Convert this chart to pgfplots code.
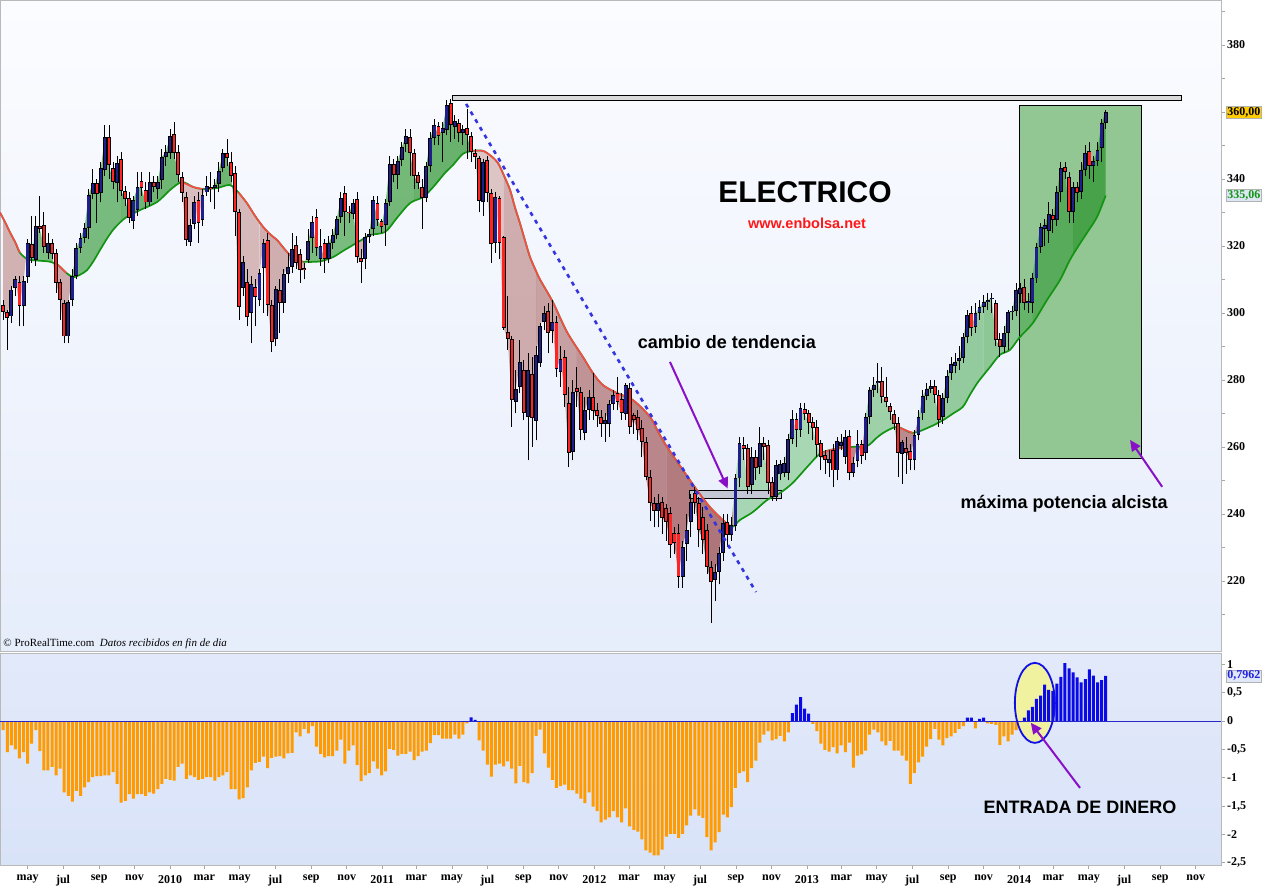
\documentclass[border=0pt]{standalone}
\usepackage{fontspec}
\setmainfont{Liberation Serif}
\newfontfamily\arial{Liberation Sans}
\usepackage{pgfplots}
\pgfplotsset{compat=1.18}
\usepackage{pgfplotstable}
\usepgfplotslibrary{fillbetween}
\usetikzlibrary{arrows.meta}

\definecolor{candleup}{HTML}{1E1E8C}
\definecolor{candledn}{HTML}{FF2424}
\definecolor{magreen}{HTML}{129412}
\definecolor{mared}{HTML}{FF4848}
\definecolor{histor}{HTML}{FF9A00}
\definecolor{histbl}{HTML}{0A0AE6}
\definecolor{apurple}{HTML}{8A10C8}
\definecolor{dashblue}{HTML}{3434E0}
\definecolor{bgtop}{HTML}{FBFCFF}
\definecolor{bgbot}{HTML}{E6EDFB}
\definecolor{lowtop}{HTML}{E2E9FA}
\definecolor{lowbot}{HTML}{D9E3F8}
\definecolor{boxgreen}{HTML}{92C692}
\definecolor{gHi}{RGB}{0,125,0}
\definecolor{gLo}{RGB}{130,202,140}
\definecolor{rHi}{RGB}{212,173,170}
\definecolor{rLo}{RGB}{120,10,10}
\definecolor{urlred}{RGB}{255,24,24}
\definecolor{smallbox}{RGB}{196,200,212}
\definecolor{ellyellow}{RGB}{240,242,160}
\definecolor{ellblue}{RGB}{16,16,230}
\definecolor{zeroline}{RGB}{40,40,200}
\definecolor{lblyellow}{RGB}{255,204,0}
\definecolor{lblgreen}{RGB}{221,230,245}
\definecolor{lblblue}{RGB}{224,232,248}
\definecolor{txtblue}{RGB}{32,32,224}

\pgfplotstableread{
w o h l c
-41 302.4 304.0 298.0 300.3
-40 300.3 301.0 289.0 298.5
-39 299.0 308.0 297.0 307.0
-38 307.5 311.0 305.0 310.0
-37 309.3 311.0 296.0 302.0
-36 302.0 311.0 296.0 309.5
-35 310.8 322.0 309.0 320.9
-34 320.6 329.0 315.0 316.4
-33 315.8 329.0 314.0 326.0
-32 326.0 335.0 324.0 325.0
-31 326.3 330.0 318.0 319.7
-30 317.9 324.0 316.0 320.9
-29 320.9 322.0 316.0 317.6
-28 317.9 319.0 306.0 309.0
-27 309.3 310.0 298.0 304.0
-26 303.0 304.0 291.0 293.0
-25 293.0 304.0 291.0 303.3
-24 304.0 313.0 302.0 311.0
-23 311.0 321.0 310.0 319.4
-22 319.4 324.0 318.0 322.4
-21 322.4 327.0 321.0 325.4
-20 325.4 337.0 322.0 335.2
-19 335.5 343.0 334.0 338.8
-18 338.8 340.0 327.0 335.5
-17 335.8 345.0 333.0 343.3
-16 342.7 356.0 341.0 352.5
-15 352.5 356.0 340.0 344.2
-14 343.3 345.0 337.0 339.1
-13 338.8 347.0 333.0 344.8
-12 346.0 348.0 335.0 336.4
-11 336.4 338.0 332.0 334.0
-10 334.3 336.0 327.0 328.4
-9 327.5 335.0 325.0 333.7
-8 330.7 342.0 329.0 337.6
-7 339.4 342.0 335.0 337.3
-6 336.7 339.0 331.0 333.0
-5 333.0 342.0 332.0 339.1
-4 339.1 341.0 336.0 337.6
-3 337.0 341.0 334.0 339.0
-2 339.7 349.0 337.0 346.6
-1 346.6 350.0 344.0 348.0
0 347.8 355.0 346.0 352.8
1 353.4 357.0 346.0 347.8
2 348.1 350.0 339.0 341.2
3 340.6 342.0 333.0 335.8
4 334.6 336.0 320.0 321.8
5 321.2 328.0 320.0 326.3
6 326.6 335.0 325.0 333.1
7 333.7 336.0 321.0 326.9
8 327.8 337.0 326.0 335.2
9 336.0 341.0 335.0 337.9
10 337.6 342.0 333.0 337.0
11 337.3 340.0 331.0 338.2
12 338.5 345.0 336.0 342.4
13 343.3 349.0 342.0 347.8
14 347.8 352.0 344.0 346.3
15 345.1 348.0 339.0 340.9
16 341.8 344.0 323.0 330.1
17 330.1 331.0 298.0 301.8
18 307.5 317.0 305.0 315.2
19 309.3 313.0 296.0 298.8
20 300.0 311.0 291.0 308.6
21 307.8 310.0 296.0 304.8
22 304.0 313.0 302.0 311.9
23 313.4 322.0 300.0 320.9
24 321.8 324.0 299.0 302.4
25 302.4 304.0 288.5 291.3
26 292.2 308.0 290.0 307.2
27 306.9 310.0 294.0 303.0
28 303.0 313.0 300.0 311.6
29 311.6 318.0 309.0 313.7
30 313.7 324.0 312.0 319.1
31 320.3 323.0 313.0 314.9
32 317.6 319.0 309.0 312.8
33 313.4 315.0 310.0 312.8
34 315.8 325.0 315.0 321.5
35 322.4 329.0 318.0 327.2
36 328.7 331.0 317.0 319.4
37 316.1 325.0 314.0 320.0
38 320.9 322.0 312.0 316.1
39 316.1 323.0 315.0 320.9
40 320.9 325.0 319.0 323.3
41 323.3 329.0 322.0 328.1
42 328.7 336.0 327.0 334.3
43 335.8 338.0 323.0 330.1
44 330.1 332.0 327.0 329.8
45 329.5 334.0 328.0 332.8
46 334.0 336.0 315.0 316.7
47 316.4 319.0 309.0 315.2
48 316.1 324.0 313.0 322.7
49 322.7 325.0 321.0 323.6
50 325.1 335.0 323.0 333.7
51 332.8 335.0 326.0 327.8
52 327.5 328.0 324.0 325.7
53 326.3 334.0 320.0 332.8
54 333.1 347.0 332.0 344.5
55 344.5 346.0 339.0 341.2
56 341.2 347.0 337.0 345.4
57 345.7 351.0 344.0 349.6
58 350.4 355.0 348.0 352.8
59 352.5 355.0 341.0 347.8
60 347.8 349.0 337.0 340.9
61 341.2 342.0 337.0 338.8
62 337.6 340.0 325.0 334.3
63 334.3 345.0 333.0 343.9
64 343.9 354.0 342.0 352.2
65 352.2 358.0 350.0 356.1
66 355.8 357.0 350.0 352.8
67 353.7 357.0 345.0 355.2
68 354.6 363.6 353.0 362.1
69 362.7 364.0 351.0 356.1
70 355.5 359.0 352.0 357.3
71 356.7 358.0 351.0 353.7
72 353.7 356.0 350.0 354.9
73 355.2 361.0 346.0 353.1
74 352.8 354.0 345.0 348.1
75 347.8 349.0 343.0 346.6
76 346.3 347.0 330.0 333.4
77 333.1 346.0 329.0 345.1
78 345.7 347.0 333.0 335.8
79 335.8 337.0 315.0 320.6
80 320.9 336.0 318.0 334.6
81 334.3 335.0 316.0 320.9
82 322.7 323.0 295.0 295.5
83 294.3 305.0 289.0 292.2
84 292.2 293.0 266.0 274.0
85 273.4 283.0 270.0 277.3
86 277.9 292.0 276.0 285.4
87 283.0 286.0 268.0 270.1
88 268.9 288.0 256.0 283.0
89 281.8 287.0 260.0 268.6
90 267.7 290.0 262.0 287.5
91 285.1 297.0 284.0 296.1
92 297.3 302.0 295.0 300.0
93 300.6 303.0 288.0 294.0
94 294.6 304.0 291.0 297.3
95 297.3 299.0 281.0 283.3
96 282.4 290.0 278.0 286.3
97 286.9 289.0 272.0 275.5
98 273.1 278.0 254.0 258.2
99 258.5 280.0 256.0 276.4
100 277.6 284.0 272.0 276.4
101 276.4 278.0 262.0 265.0
102 264.2 275.0 262.0 271.0
103 271.0 277.0 268.0 275.0
104 275.0 282.0 268.0 270.7
105 271.0 273.0 266.0 269.2
106 269.0 271.0 263.0 266.9
107 267.0 270.0 261.5 268.0
108 266.9 274.0 263.0 272.8
109 272.8 277.0 271.0 275.5
110 276.1 281.0 271.0 273.4
111 274.3 276.0 268.0 270.1
112 269.8 279.0 268.0 278.5
113 277.6 279.0 264.0 266.0
114 269.5 270.0 264.0 268.0
115 268.9 271.0 262.0 265.0
116 265.6 268.0 257.0 261.5
117 261.5 263.0 250.0 251.0
118 251.0 253.0 238.0 243.3
119 243.3 245.0 236.0 240.9
120 240.9 246.0 236.0 243.3
121 243.6 245.0 234.0 238.8
122 241.8 243.0 232.0 237.6
123 240.3 242.0 227.0 230.8
124 234.3 236.0 228.0 231.3
125 234.3 237.0 218.0 221.2
126 221.2 232.0 218.0 230.2
127 231.0 240.0 226.0 235.2
128 237.6 246.0 233.0 243.6
129 246.3 248.0 240.0 243.3
130 243.3 245.0 230.0 235.2
131 239.1 242.0 228.0 232.2
132 235.2 237.0 222.0 224.2
133 224.2 226.0 207.5 219.7
134 220.3 225.0 214.0 222.7
135 222.7 230.0 219.0 228.4
136 228.4 240.0 226.0 237.3
137 237.6 240.0 230.0 233.7
138 233.7 239.0 232.0 236.7
139 236.4 252.0 235.0 250.6
140 250.6 263.0 248.0 261.1
141 260.6 263.0 256.0 259.4
142 259.7 261.0 246.0 248.1
143 248.7 260.0 246.0 257.0
144 257.0 259.0 250.0 253.7
145 254.0 266.0 252.0 261.2
146 261.2 263.0 256.0 260.0
147 260.6 262.0 246.0 249.3
148 249.6 251.0 244.0 245.1
149 245.1 256.0 244.0 254.6
150 251.8 256.0 250.0 254.8
151 252.2 257.0 251.0 255.2
152 252.2 264.0 250.0 262.4
153 262.4 271.0 261.0 268.4
154 268.4 270.0 260.0 265.0
155 265.0 273.0 263.0 271.6
156 271.3 273.0 268.0 269.8
157 270.1 271.0 264.0 267.2
158 267.5 269.0 262.0 265.6
159 266.0 268.0 257.0 260.6
160 261.2 262.0 253.0 257.0
161 257.6 259.0 252.0 256.1
162 255.2 259.0 251.0 256.4
163 259.1 261.0 248.0 253.0
164 253.0 263.0 250.0 261.8
165 260.3 264.0 259.0 261.5
166 257.0 265.0 255.0 263.0
167 263.3 265.0 250.0 252.2
168 252.2 257.0 251.0 255.2
169 255.8 265.0 254.0 260.9
170 260.9 262.0 255.0 257.3
171 258.2 270.0 256.0 269.0
172 269.0 278.0 267.0 277.0
173 277.0 281.0 275.0 278.5
174 279.0 285.0 276.0 279.6
175 279.6 284.0 273.0 274.9
176 274.9 281.0 272.0 273.4
177 272.2 273.0 268.0 270.4
178 269.8 271.0 265.0 266.9
179 267.2 269.0 251.0 258.2
180 257.9 262.0 249.0 261.5
181 259.7 263.0 252.0 258.2
182 258.8 261.0 253.0 256.1
183 256.1 265.0 253.0 263.6
184 263.6 271.0 262.0 268.9
185 270.0 277.0 268.0 275.2
186 275.2 279.0 274.0 277.3
187 277.3 280.0 276.0 278.2
188 278.2 280.0 273.0 275.5
189 275.5 277.0 266.0 268.1
190 268.9 276.0 267.0 274.6
191 274.6 283.0 273.0 281.2
192 282.1 287.0 280.0 284.8
193 284.2 288.0 282.0 285.4
194 285.7 290.0 283.0 286.6
195 286.6 294.0 285.0 292.8
196 292.8 301.0 291.0 299.4
197 300.0 302.0 293.0 295.5
198 295.8 303.0 294.0 300.0
199 300.0 304.0 298.0 301.8
200 301.8 305.4 300.0 303.3
201 303.3 306.0 301.0 303.9
202 304.2 306.0 300.0 304.5
203 303.0 304.0 290.0 292.0
204 292.2 294.0 287.0 289.9
205 289.9 296.0 288.0 294.0
206 294.0 301.0 289.0 300.3
207 300.3 302.0 298.0 300.6
208 300.6 309.0 299.0 306.9
209 305.7 309.0 303.0 307.5
210 307.8 310.0 301.0 303.0
211 303.0 306.0 300.0 303.6
212 303.0 312.0 300.0 310.3
213 310.3 321.0 309.0 319.7
214 319.7 327.0 318.0 325.7
215 325.1 328.0 320.0 326.3
216 324.5 333.0 321.0 329.5
217 329.2 331.0 324.0 327.8
218 327.8 338.0 326.0 336.1
219 336.1 345.0 333.0 343.3
220 343.6 345.0 340.0 342.1
221 340.6 342.0 327.0 330.1
222 330.1 339.0 327.0 337.6
223 337.6 339.0 333.0 335.8
224 336.1 345.0 334.0 342.7
225 342.7 350.0 341.0 347.8
226 348.4 351.0 340.0 343.9
227 343.9 347.0 339.0 345.4
228 345.4 351.0 344.0 348.7
229 349.3 358.0 345.0 356.7
230 356.7 360.5 355.0 360.0
}\candles

\pgfplotstableread{
w ma
-41.8 330.0
-40.5 327.0
-39.3 324.0
-38.0 321.0
-36.9 318.0
-34.9 316.0
-32.0 315.6
-29.5 315.3
-27.5 314.3
-25.5 312.0
-23.8 310.7
-22.0 311.5
-20.4 312.8
-18.8 315.5
-17.2 318.8
-15.6 322.0
-14.0 324.8
-12.3 327.0
-10.6 328.7
-7.4 330.7
-3.2 333.1
0.0 336.7
2.9 339.1
5.7 337.6
8.1 337.0
11.6 337.3
14.7 338.2
16.8 336.0
18.9 332.8
20.9 329.0
22.9 325.7
24.6 323.5
26.3 321.8
28.0 319.3
29.5 317.3
31.1 316.0
32.7 315.3
36.9 315.4
40.1 316.7
42.5 318.5
45.0 320.3
47.1 321.8
49.2 323.3
52.9 324.2
55.8 328.4
59.0 332.8
62.2 334.6
64.7 337.6
67.6 341.8
69.6 344.2
72.0 347.5
74.5 348.4
76.9 348.4
78.8 347.0
80.6 344.8
82.1 341.0
83.6 336.7
84.8 331.5
86.0 326.9
87.3 321.5
88.5 316.7
89.8 313.0
91.0 309.9
94.1 303.3
97.6 294.3
101.5 286.9
104.0 282.0
106.4 278.5
109.9 276.1
113.8 274.0
118.0 269.0
120.0 264.5
122.2 260.0
126.1 253.1
129.5 247.2
132.7 242.1
135.9 238.2
138.1 236.1
140.1 238.2
143.3 240.6
146.8 244.2
150.0 246.3
153.1 249.3
156.6 254.0
159.8 258.0
163.0 259.3
167.2 260.0
171.3 260.3
173.5 262.5
175.3 264.2
178.7 266.0
182.6 264.2
186.8 266.0
190.0 268.0
192.5 270.0
194.9 272.0
196.6 275.5
198.4 279.0
200.0 281.5
201.6 283.9
204.0 287.5
206.5 289.0
208.9 292.8
212.1 297.0
215.6 303.9
218.8 309.9
221.2 315.8
223.3 320.0
225.4 323.9
227.9 328.7
230.0 335.06
}\matab

\pgfplotstableread{
w v
-41 -0.16
-40 -0.55
-39 -0.43
-38 -0.50
-37 -0.66
-36 -0.55
-35 -0.75
-34 -0.40
-33 -0.16
-32 -0.53
-31 -0.87
-30 -0.87
-29 -0.81
-28 -0.96
-27 -0.84
-26 -1.26
-25 -1.32
-24 -1.42
-23 -1.23
-22 -1.32
-21 -1.17
-20 -1.08
-19 -0.99
-18 -0.97
-17 -0.97
-16 -0.96
-15 -0.96
-14 -0.90
-13 -1.11
-12 -1.44
-11 -1.41
-10 -1.29
-9 -1.37
-8 -1.29
-7 -1.29
-6 -1.32
-5 -1.26
-4 -1.28
-3 -1.20
-2 -1.11
-1 -1.02
0 -1.04
1 -1.05
2 -0.81
3 -0.75
4 -1.02
5 -0.96
6 -0.99
7 -1.04
8 -1.02
9 -0.99
10 -0.99
11 -1.05
12 -0.99
13 -0.96
14 -0.90
15 -1.20
16 -1.20
17 -1.38
18 -1.36
19 -1.17
20 -0.87
21 -0.74
22 -0.72
23 -0.63
24 -0.83
25 -0.65
26 -0.63
27 -0.62
28 -0.66
29 -0.57
30 -0.56
31 -0.20
32 -0.27
33 -0.14
34 -0.22
35 -0.09
36 -0.45
37 -0.58
38 -0.64
39 -0.62
40 -0.62
41 -0.52
42 -0.33
43 -0.75
44 -0.52
45 -0.43
46 -0.78
47 -1.06
48 -0.96
49 -0.92
50 -0.71
51 -0.84
52 -0.96
53 -0.89
54 -0.49
55 -0.51
56 -0.61
57 -0.58
58 -0.58
59 -0.54
60 -0.69
61 -0.62
62 -0.54
63 -0.52
64 -0.39
65 -0.25
66 -0.25
67 -0.31
68 -0.31
69 -0.31
70 -0.24
71 -0.31
72 -0.24
73 -0.04
74 0.065
75 0.02
76 -0.34
77 -0.52
78 -0.77
79 -0.98
80 -0.77
81 -0.75
82 -0.80
83 -0.71
84 -0.84
85 -1.10
86 -0.79
87 -1.08
88 -1.10
89 -0.92
90 -0.26
91 -0.15
92 -0.57
93 -0.82
94 -1.04
95 -1.18
96 -1.15
97 -1.12
98 -1.22
99 -1.22
100 -1.28
101 -1.37
102 -1.45
103 -1.26
104 -1.51
105 -1.59
106 -1.79
107 -1.74
108 -1.70
109 -1.59
110 -1.70
111 -1.79
112 -1.54
113 -1.86
114 -1.92
115 -1.95
116 -2.09
117 -2.28
118 -2.32
119 -2.37
120 -2.37
121 -2.27
122 -2.04
123 -1.99
124 -1.99
125 -2.06
126 -1.99
127 -1.84
128 -1.67
129 -1.56
130 -1.67
131 -1.71
132 -2.05
133 -2.28
134 -2.14
135 -1.96
136 -1.65
137 -1.70
138 -1.52
139 -1.18
140 -0.92
141 -0.89
142 -1.08
143 -0.83
144 -0.70
145 -0.38
146 -0.24
147 -0.18
148 -0.34
149 -0.32
150 -0.26
151 -0.36
152 -0.20
153 0.14
154 0.29
155 0.42
156 0.22
157 0.13
158 -0.05
159 -0.18
160 -0.40
161 -0.51
162 -0.54
163 -0.46
164 -0.57
165 -0.43
166 -0.55
167 -0.38
168 -0.82
169 -0.61
170 -0.59
171 -0.52
172 -0.24
173 -0.15
174 -0.20
175 -0.36
176 -0.43
177 -0.35
178 -0.52
179 -0.52
180 -0.61
181 -0.70
182 -1.11
183 -0.92
184 -0.73
185 -0.63
186 -0.45
187 -0.32
188 -0.14
189 -0.33
190 -0.43
191 -0.30
192 -0.27
193 -0.21
194 -0.14
195 -0.09
196 0.06
197 0.06
198 -0.13
199 0.04
200 0.06
201 -0.04
202 -0.05
203 -0.07
204 -0.42
205 -0.27
206 -0.36
207 -0.24
208 -0.16
209 -0.02
210 0.06
211 0.19
212 0.25
213 0.39
214 0.45
215 0.64
216 0.55
217 0.53
218 0.66
219 0.78
220 1.02
221 0.93
222 0.86
223 0.77
224 0.68
225 0.74
226 0.91
227 0.80
228 0.68
229 0.72
230 0.7962
}\ind

\begin{document}
\begin{tikzpicture}

% ---------------- main price panel ----------------
\begin{axis}[
  at={(0pt,0pt)}, anchor=north west,
  scale only axis, width=1221pt, height=651pt,
  xmin=-41.79, xmax=258.36, ymin=199.1, ymax=393.43,
  set layers,
  axis line style={draw=gray!55, line width=0.8pt},
  axis background/.style={top color=bgtop, bottom color=bgbot},
  xtick=\empty,
  ytick={220,240,260,280,300,320,340,360,380},
  yticklabels={220,240,260,280,300,320,340,{},380},
  minor ytick={210,230,250,270,290,310,330,350,370,390},
  ytick pos=right, tick align=outside,
  major tick length=4pt, minor tick length=4pt,
  every tick/.style={gray!70, line width=0.7pt},
  yticklabel style={font=\fontsize{12}{13}\selectfont\bfseries, text=black, inner sep=2pt},
  candle/.style={only marks, mark=*, mark size=0pt, mark options={draw=none, fill=none}},
]
% green rectangle (max bullish power), drawn under the fills
\addplot[draw=none, name path=bxLo] coordinates {(208.7,256.7) (238.7,256.7)};
\addplot[draw=none, name path=bxHi] coordinates {(208.7,362.1) (238.7,362.1)};
\addplot[fill=boxgreen, draw=none] fill between[of=bxLo and bxHi];

% paths for fills
\addplot[draw=none, name path=closep] table[x=w, y=c] {\candles};
\addplot[draw=none, name path=mapath] table[x=w, y=ma] {\matab};

% red fills (price below average)
\addplot[draw=none, fill opacity=0.6, fill={rLo!26!rHi}] fill between[of=closep and mapath, soft clip={domain=-41:-35.4}];
\addplot[draw=none, fill opacity=0.6, fill={rLo!33!rHi}] fill between[of=closep and mapath, soft clip={domain=-28.6:-24.2}];
\addplot[draw=none, fill opacity=0.6, fill={rLo!14!rHi}] fill between[of=closep and mapath, soft clip={domain=2.6:8.5}];
\addplot[draw=none, fill opacity=0.6, fill={rLo!18!rHi}] fill between[of=closep and mapath, soft clip={domain=15.5:22}];
\addplot[draw=none, fill opacity=0.6, fill={rLo!29!rHi}] fill between[of=closep and mapath, soft clip={domain=22:33.5}];
\addplot[draw=none, fill opacity=0.6, fill={rLo!22!rHi}] fill between[of=closep and mapath, soft clip={domain=45.6:47.8}];
\addplot[draw=none, fill opacity=0.6, fill={rLo!6!rHi}] fill between[of=closep and mapath, soft clip={domain=73.8:82}];
\addplot[draw=none, fill opacity=0.6, fill={rLo!30!rHi}] fill between[of=closep and mapath, soft clip={domain=82:90}];
\addplot[draw=none, fill opacity=0.6, fill={rLo!42!rHi}] fill between[of=closep and mapath, soft clip={domain=90:100}];
\addplot[draw=none, fill opacity=0.6, fill={rLo!54!rHi}] fill between[of=closep and mapath, soft clip={domain=100:112}];
\addplot[draw=none, fill opacity=0.6, fill={rLo!66!rHi}] fill between[of=closep and mapath, soft clip={domain=112:122}];
\addplot[draw=none, fill opacity=0.6, fill={rLo!78!rHi}] fill between[of=closep and mapath, soft clip={domain=122:130}];
\addplot[draw=none, fill opacity=0.6, fill={rLo!84!rHi}] fill between[of=closep and mapath, soft clip={domain=130:138.4}];
\addplot[draw=none, fill opacity=0.6, fill={rLo!66!rHi}] fill between[of=closep and mapath, soft clip={domain=159.6:170.8}];
\addplot[draw=none, fill opacity=0.6, fill={rLo!63!rHi}] fill between[of=closep and mapath, soft clip={domain=178.6:183.7}];
% green fills (price above average)
\addplot[draw=none, fill opacity=0.6, fill={gHi!64!gLo}] fill between[of=closep and mapath, soft clip={domain=-35.4:-28.6}];
\addplot[draw=none, fill opacity=0.6, fill={gHi!71!gLo}] fill between[of=closep and mapath, soft clip={domain=-24.2:-12}];
\addplot[draw=none, fill opacity=0.6, fill={gHi!82!gLo}] fill between[of=closep and mapath, soft clip={domain=-12:2.6}];
\addplot[draw=none, fill opacity=0.6, fill={gHi!84!gLo}] fill between[of=closep and mapath, soft clip={domain=8.5:15.5}];
\addplot[draw=none, fill opacity=0.6, fill={gHi!68!gLo}] fill between[of=closep and mapath, soft clip={domain=33.5:45.6}];
\addplot[draw=none, fill opacity=0.6, fill={gHi!77!gLo}] fill between[of=closep and mapath, soft clip={domain=47.8:60}];
\addplot[draw=none, fill opacity=0.6, fill={gHi!91!gLo}] fill between[of=closep and mapath, soft clip={domain=60:73.8}];
\addplot[draw=none, fill opacity=0.6, fill={gHi!5!gLo}] fill between[of=closep and mapath, soft clip={domain=138.4:159.6}];
\addplot[draw=none, fill opacity=0.6, fill={gHi!18!gLo}] fill between[of=closep and mapath, soft clip={domain=170.8:178.6}];
\addplot[draw=none, fill opacity=0.6, fill={gHi!32!gLo}] fill between[of=closep and mapath, soft clip={domain=183.7:200}];
\addplot[draw=none, fill opacity=0.6, fill={gHi!43!gLo}] fill between[of=closep and mapath, soft clip={domain=200:212}];
\addplot[draw=none, fill opacity=0.6, fill={gHi!62!gLo}] fill between[of=closep and mapath, soft clip={domain=212:222}];
\addplot[draw=none, fill opacity=0.6, fill={gHi!82!gLo}] fill between[of=closep and mapath, soft clip={domain=222:230}];

% outline of the green rectangle
\draw[black, line width=0.8pt] (axis cs:208.7,256.7) rectangle (axis cs:238.7,362.1);
% resistance box and small box
\draw[black, fill=gray!30, line width=0.8pt] (axis cs:69.3,363.6) rectangle (axis cs:248.5,364.9);
\draw[black, fill=smallbox, line width=0.8pt] (axis cs:127.8,244.8) rectangle (axis cs:150.2,246.9);

% moving average
\addplot[magreen, line width=1.7pt, smooth] table[x=w, y=ma] {\matab};
\addplot[mared, line width=1.6pt, smooth, restrict x to domain=-42:-35.4] table[x=w, y=ma] {\matab};
\addplot[mared, line width=1.6pt, smooth, restrict x to domain=-28.6:-24.2] table[x=w, y=ma] {\matab};
\addplot[mared, line width=1.6pt, smooth, restrict x to domain=2.6:8.5] table[x=w, y=ma] {\matab};
\addplot[mared, line width=1.6pt, smooth, restrict x to domain=15.5:33.5] table[x=w, y=ma] {\matab};
\addplot[mared, line width=1.6pt, smooth, restrict x to domain=73.8:138.4] table[x=w, y=ma] {\matab};
\addplot[mared, line width=1.6pt, smooth, restrict x to domain=159.6:170.8] table[x=w, y=ma] {\matab};
\addplot[mared, line width=1.6pt, smooth, restrict x to domain=178.6:183.7] table[x=w, y=ma] {\matab};

% candle wicks
\addplot[candle, error bars/.cd, y dir=plus, y explicit,
  error mark=none, error bar style={draw=black, line width=0.9pt}]
  table[x=w, y=l, y error expr=\thisrow{h}-\thisrow{l}] {\candles};
% up candles
\addplot[candle, restrict expr to domain={\thisrow{c}-\thisrow{o}}{0:1000},
  error bars/.cd, y dir=plus, y explicit, error mark=none,
  error bar style={draw=black, line width=3.9pt}]
  table[x=w, y=o, y error expr={max(\thisrow{c}-\thisrow{o},0.35)}] {\candles};
\addplot[candle, restrict expr to domain={\thisrow{c}-\thisrow{o}}{0:1000},
  error bars/.cd, y dir=plus, y explicit, error mark=none,
  error bar style={draw=candleup, line width=2.3pt}]
  table[x=w, y expr=\thisrow{o}+0.25, y error expr={max(\thisrow{c}-\thisrow{o}-0.5,0.02)}] {\candles};
% down candles
\addplot[candle, restrict expr to domain={\thisrow{o}-\thisrow{c}}{0:1000},
  error bars/.cd, y dir=plus, y explicit, error mark=none,
  error bar style={draw=black, line width=3.9pt}]
  table[x=w, y=c, y error expr={max(\thisrow{o}-\thisrow{c},0.35)}] {\candles};
\addplot[candle, restrict expr to domain={\thisrow{o}-\thisrow{c}}{0:1000},
  error bars/.cd, y dir=plus, y explicit, error mark=none,
  error bar style={draw=candledn, line width=2.3pt}]
  table[x=w, y expr=\thisrow{c}+0.25, y error expr={max(\thisrow{o}-\thisrow{c}-0.5,0.02)}] {\candles};

% trend line
\draw[dashblue, line width=2.6pt, dash pattern=on 4pt off 5pt] (axis cs:72.8,362.4) -- (axis cs:144.05,216.7);

% annotations
\node[font=\arial\bfseries\fontsize{30}{30}\selectfont] at (axis cs:156.1,336.1) {ELECTRICO};
\node[font=\arial\bfseries\fontsize{14.5}{15}\selectfont, text=urlred] at (axis cs:156.6,326.8) {www.enbolsa.net};
\node[font=\arial\bfseries\fontsize{18}{18}\selectfont] at (axis cs:136.9,291.3) {cambio de tendencia};
\node[font=\arial\bfseries\fontsize{18}{18}\selectfont] at (axis cs:219.8,243.0) {máxima potencia alcista};
\draw[apurple, line width=2pt, -{Triangle[length=11pt,width=10pt]}] (axis cs:122.9,285.4) -- (axis cs:137.1,247.6);
\draw[apurple, line width=2pt, -{Triangle[length=11pt,width=10pt]}] (axis cs:243.9,248.1) -- (axis cs:236.0,262.1);
\node[anchor=base west, font=\fontsize{11}{11}\selectfont, inner sep=0pt] at (axis cs:-41.0,200.4) {© ProRealTime.com\ \ \textit{Datos recibidos en fin de dia}};
\end{axis}

% ---------------- lower indicator panel ----------------
\begin{axis}[
  at={(0pt,-653pt)}, anchor=north west,
  scale only axis, width=1221pt, height=212pt,
  xmin=-41.79, xmax=258.36, ymin=-2.54, ymax=1.2,
  axis line style={draw=gray!55, line width=0.8pt},
  axis background/.style={top color=lowtop, bottom color=lowbot},
  ytick={-2.5,-2,-1.5,-1,-0.5,0,0.5,1},
  yticklabels={{-2,5},-2,{-1,5},-1,{-0,5},0,{0,5},1},
  ytick pos=right, tick align=outside,
  xtick={-35.0,-26.29,-17.43,-8.71,0,8.43,17.14,25.86,34.71,43.43,52.14,60.57,69.29,78.0,86.86,95.57,104.29,112.86,121.57,130.29,139.14,147.86,156.57,165.0,173.71,182.43,191.29,200.0,208.71,217.14,225.86,234.57,243.43,252.14},
  xticklabels={may,jul,sep,nov,2010,mar,may,jul,sep,nov,2011,mar,may,jul,sep,nov,2012,mar,may,jul,sep,nov,2013,mar,may,jul,sep,nov,2014,mar,may,jul,sep,nov},
  xtick pos=bottom,
  major tick length=4pt,
  every tick/.style={gray!70, line width=0.7pt},
  yticklabel style={font=\fontsize{12}{13}\selectfont\bfseries, text=black, inner sep=2pt},
  xticklabel style={font=\fontsize{12}{13}\selectfont\bfseries, text=black, inner sep=1pt, yshift=-5pt},
]
\fill[ellyellow] (axis cs:212.6,0.32) ellipse [x radius=20pt, y radius=40pt];
\addplot[ybar, bar width=3pt, bar shift=0pt, fill=histor, draw=none, restrict y to domain=-5:0] table[x=w, y=v] {\ind};
\addplot[ybar, bar width=3pt, bar shift=0pt, fill=histbl, draw=none, restrict y to domain=0:5] table[x=w, y=v] {\ind};
\addplot[line width=1pt, color=zeroline] coordinates {(-41.79,0) (258.36,0)};
\draw[ellblue, line width=1.8pt] (axis cs:212.6,0.32) ellipse [x radius=20pt, y radius=40pt];
\draw[apurple, line width=2pt, -{Triangle[length=11pt,width=10pt]}] (axis cs:223.7,-1.18) -- (axis cs:211.6,-0.03);
\node[font=\arial\bfseries\fontsize{18}{18}\selectfont] at (axis cs:223.7,-1.53) {ENTRADA DE DINERO};
\end{axis}

% value boxes on the right scale
\node[anchor=west, fill=lblyellow, draw=gray!60, inner sep=1.2pt, font=\fontsize{12}{13}\selectfont\bfseries] at (1226pt,-112.0pt) {360,00};
\node[anchor=west, fill=lblgreen, draw=gray!60, inner sep=1.2pt, text=magreen, font=\fontsize{12}{13}\selectfont\bfseries] at (1226pt,-195.5pt) {335,06};
\node[anchor=west, fill=lblblue, draw=gray!60, inner sep=1.2pt, text=txtblue, font=\fontsize{12}{13}\selectfont\bfseries] at (1226pt,-675.9pt) {0,7962};

\pgfresetboundingbox
\path[use as bounding box] (0pt,0pt) rectangle (1275pt,-888pt);
\end{tikzpicture}
\end{document}
